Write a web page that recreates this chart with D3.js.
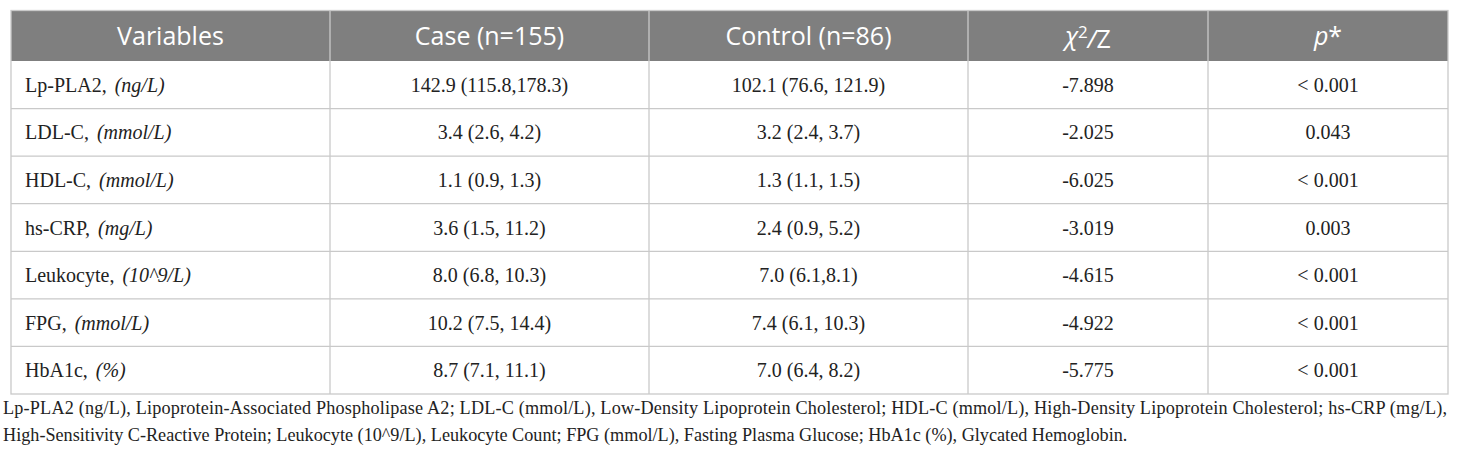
<!DOCTYPE html>
<html>
<head>
<meta charset="utf-8">
<script src="https://cdn.jsdelivr.net/npm/d3@7"></script>
<style>
  body { margin: 0; background: #fff; }
  svg { display: block; }
</style>
</head>
<body>
<svg id="tbl" width="1460" height="459"></svg>
<script>
// table content
const headers = ["Variables", "Case (n=155)", "Control (n=86)", "χ2/Z", "p*"];
const variables = ["Lp-PLA2,", "LDL-C,", "HDL-C,", "hs-CRP,", "Leukocyte,", "FPG,", "HbA1c,"];
const units = ["(ng/L)", "(mmol/L)", "(mmol/L)", "(mg/L)", "(10^9/L)", "(mmol/L)", "(%)"];
const caseValues = ["142.9 (115.8,178.3)", "3.4 (2.6, 4.2)", "1.1 (0.9, 1.3)", "3.6 (1.5, 11.2)",
                    "8.0 (6.8, 10.3)", "10.2 (7.5, 14.4)", "8.7 (7.1, 11.1)"];
const controlValues = ["102.1 (76.6, 121.9)", "3.2 (2.4, 3.7)", "1.3 (1.1, 1.5)", "2.4 (0.9, 5.2)",
                       "7.0 (6.1,8.1)", "7.4 (6.1, 10.3)", "7.0 (6.4, 8.2)"];
const statValues = ["-7.898", "-2.025", "-6.025", "-3.019", "-4.615", "-4.922", "-5.775"];
const pValues = ["< 0.001", "0.043", "< 0.001", "0.003", "< 0.001", "< 0.001", "< 0.001"];
const footLines = [
  "Lp-PLA2 (ng/L), Lipoprotein-Associated Phospholipase A2; LDL-C (mmol/L), Low-Density Lipoprotein Cholesterol; HDL-C (mmol/L), High-Density Lipoprotein Cholesterol; hs-CRP (mg/L),",
  "High-Sensitivity C-Reactive Protein; Leukocyte (10^9/L), Leukocyte Count; FPG (mmol/L), Fasting Plasma Glucose; HbA1c (%), Glycated Hemoglobin."
];

const svg = d3.select("#tbl");
const left = 11, right = 1448;
const colEdges = [left, 330, 649, 968, 1208, right];
const headTop = 10.5, headBot = 61, tableBot = 394;
const gridCol = "#c9c9c9";
const serif = "'Liberation Serif', 'Times New Roman', serif";
const sans = "'Open Sans', 'Noto Sans', sans-serif";

const y = d3.scaleBand().domain(d3.range(variables.length)).range([headBot, tableBot]);
const cx = i => (colEdges[i] + colEdges[i + 1]) / 2;

// header
svg.append("rect")
    .attr("x", left).attr("y", headTop)
    .attr("width", right - left).attr("height", headBot - headTop)
    .attr("fill", "#7f7f7f");

const hText = svg.selectAll("text.head").data(headers).join("text")
    .attr("class", "head")
    .attr("x", (d, i) => cx(i))
    .attr("y", (headTop + headBot) / 2)
    .attr("dy", "0.36em")
    .attr("text-anchor", "middle")
    .attr("fill", "#fff")
    .style("font-family", sans)
    .style("font-size", "25px");

hText.each(function (d, i) {
    const t = d3.select(this);
    if (i === 3) {
        t.append("tspan").style("font-style", "italic").text("χ");
        t.append("tspan").attr("dy", "-0.42em").style("font-size", "17px").text("2");
        t.append("tspan").attr("dy", "0.42em").style("font-style", "italic").text("/");
        t.append("tspan").text("Z");
    } else if (i === 4) {
        t.append("tspan").style("font-style", "italic").text("p");
        t.append("tspan").text("*");
    } else {
        t.text(d);
    }
});

// grid lines
svg.selectAll("line.rowline").data(d3.range(1, variables.length)).join("line")
    .attr("class", "rowline")
    .attr("x1", left).attr("x2", right)
    .attr("y1", d => y(d)).attr("y2", d => y(d))
    .attr("stroke", gridCol).attr("stroke-width", 1.3);

svg.selectAll("line.colline").data(colEdges.slice(1, -1)).join("line")
    .attr("class", "colline")
    .attr("x1", d => d).attr("x2", d => d)
    .attr("y1", headTop).attr("y2", tableBot)
    .attr("stroke", gridCol).attr("stroke-width", 1.3);

svg.append("rect")
    .attr("x", left).attr("y", headTop)
    .attr("width", right - left).attr("height", tableBot - headTop)
    .attr("fill", "none").attr("stroke", gridCol).attr("stroke-width", 1.3);

// body rows
const rows = svg.selectAll("g.row").data(variables).join("g")
    .attr("class", "row")
    .attr("transform", (d, i) => `translate(0,${y(i) + y.bandwidth() / 2})`)
    .style("font-family", serif)
    .style("font-size", "20px")
    .attr("fill", "#222");

rows.append("text")
    .attr("x", 25).attr("dy", "0.35em")
    .each(function (d, i) {
        const t = d3.select(this);
        t.append("tspan").text(d);
        t.append("tspan").attr("dx", 8).style("font-style", "italic").text(units[i]);
    });

[caseValues, controlValues, statValues, pValues].forEach((vals, k) => {
    rows.append("text")
        .attr("x", cx(k + 1)).attr("dy", "0.35em")
        .attr("text-anchor", "middle")
        .text((d, i) => vals[i]);
});

// footnote
svg.selectAll("text.foot").data(footLines).join("text")
    .attr("class", "foot")
    .attr("x", 3)
    .attr("y", (d, i) => 408 + i * 27)
    .attr("dy", "0.35em")
    .attr("fill", "#222")
    .style("font-family", serif)
    .style("font-size", "18.2px")
    .each(function (d, i) {
        if (i === 0) d3.select(this).attr("textLength", 1444).attr("lengthAdjust", "spacing");
    })
    .text(d => d);
</script>
</body>
</html>
